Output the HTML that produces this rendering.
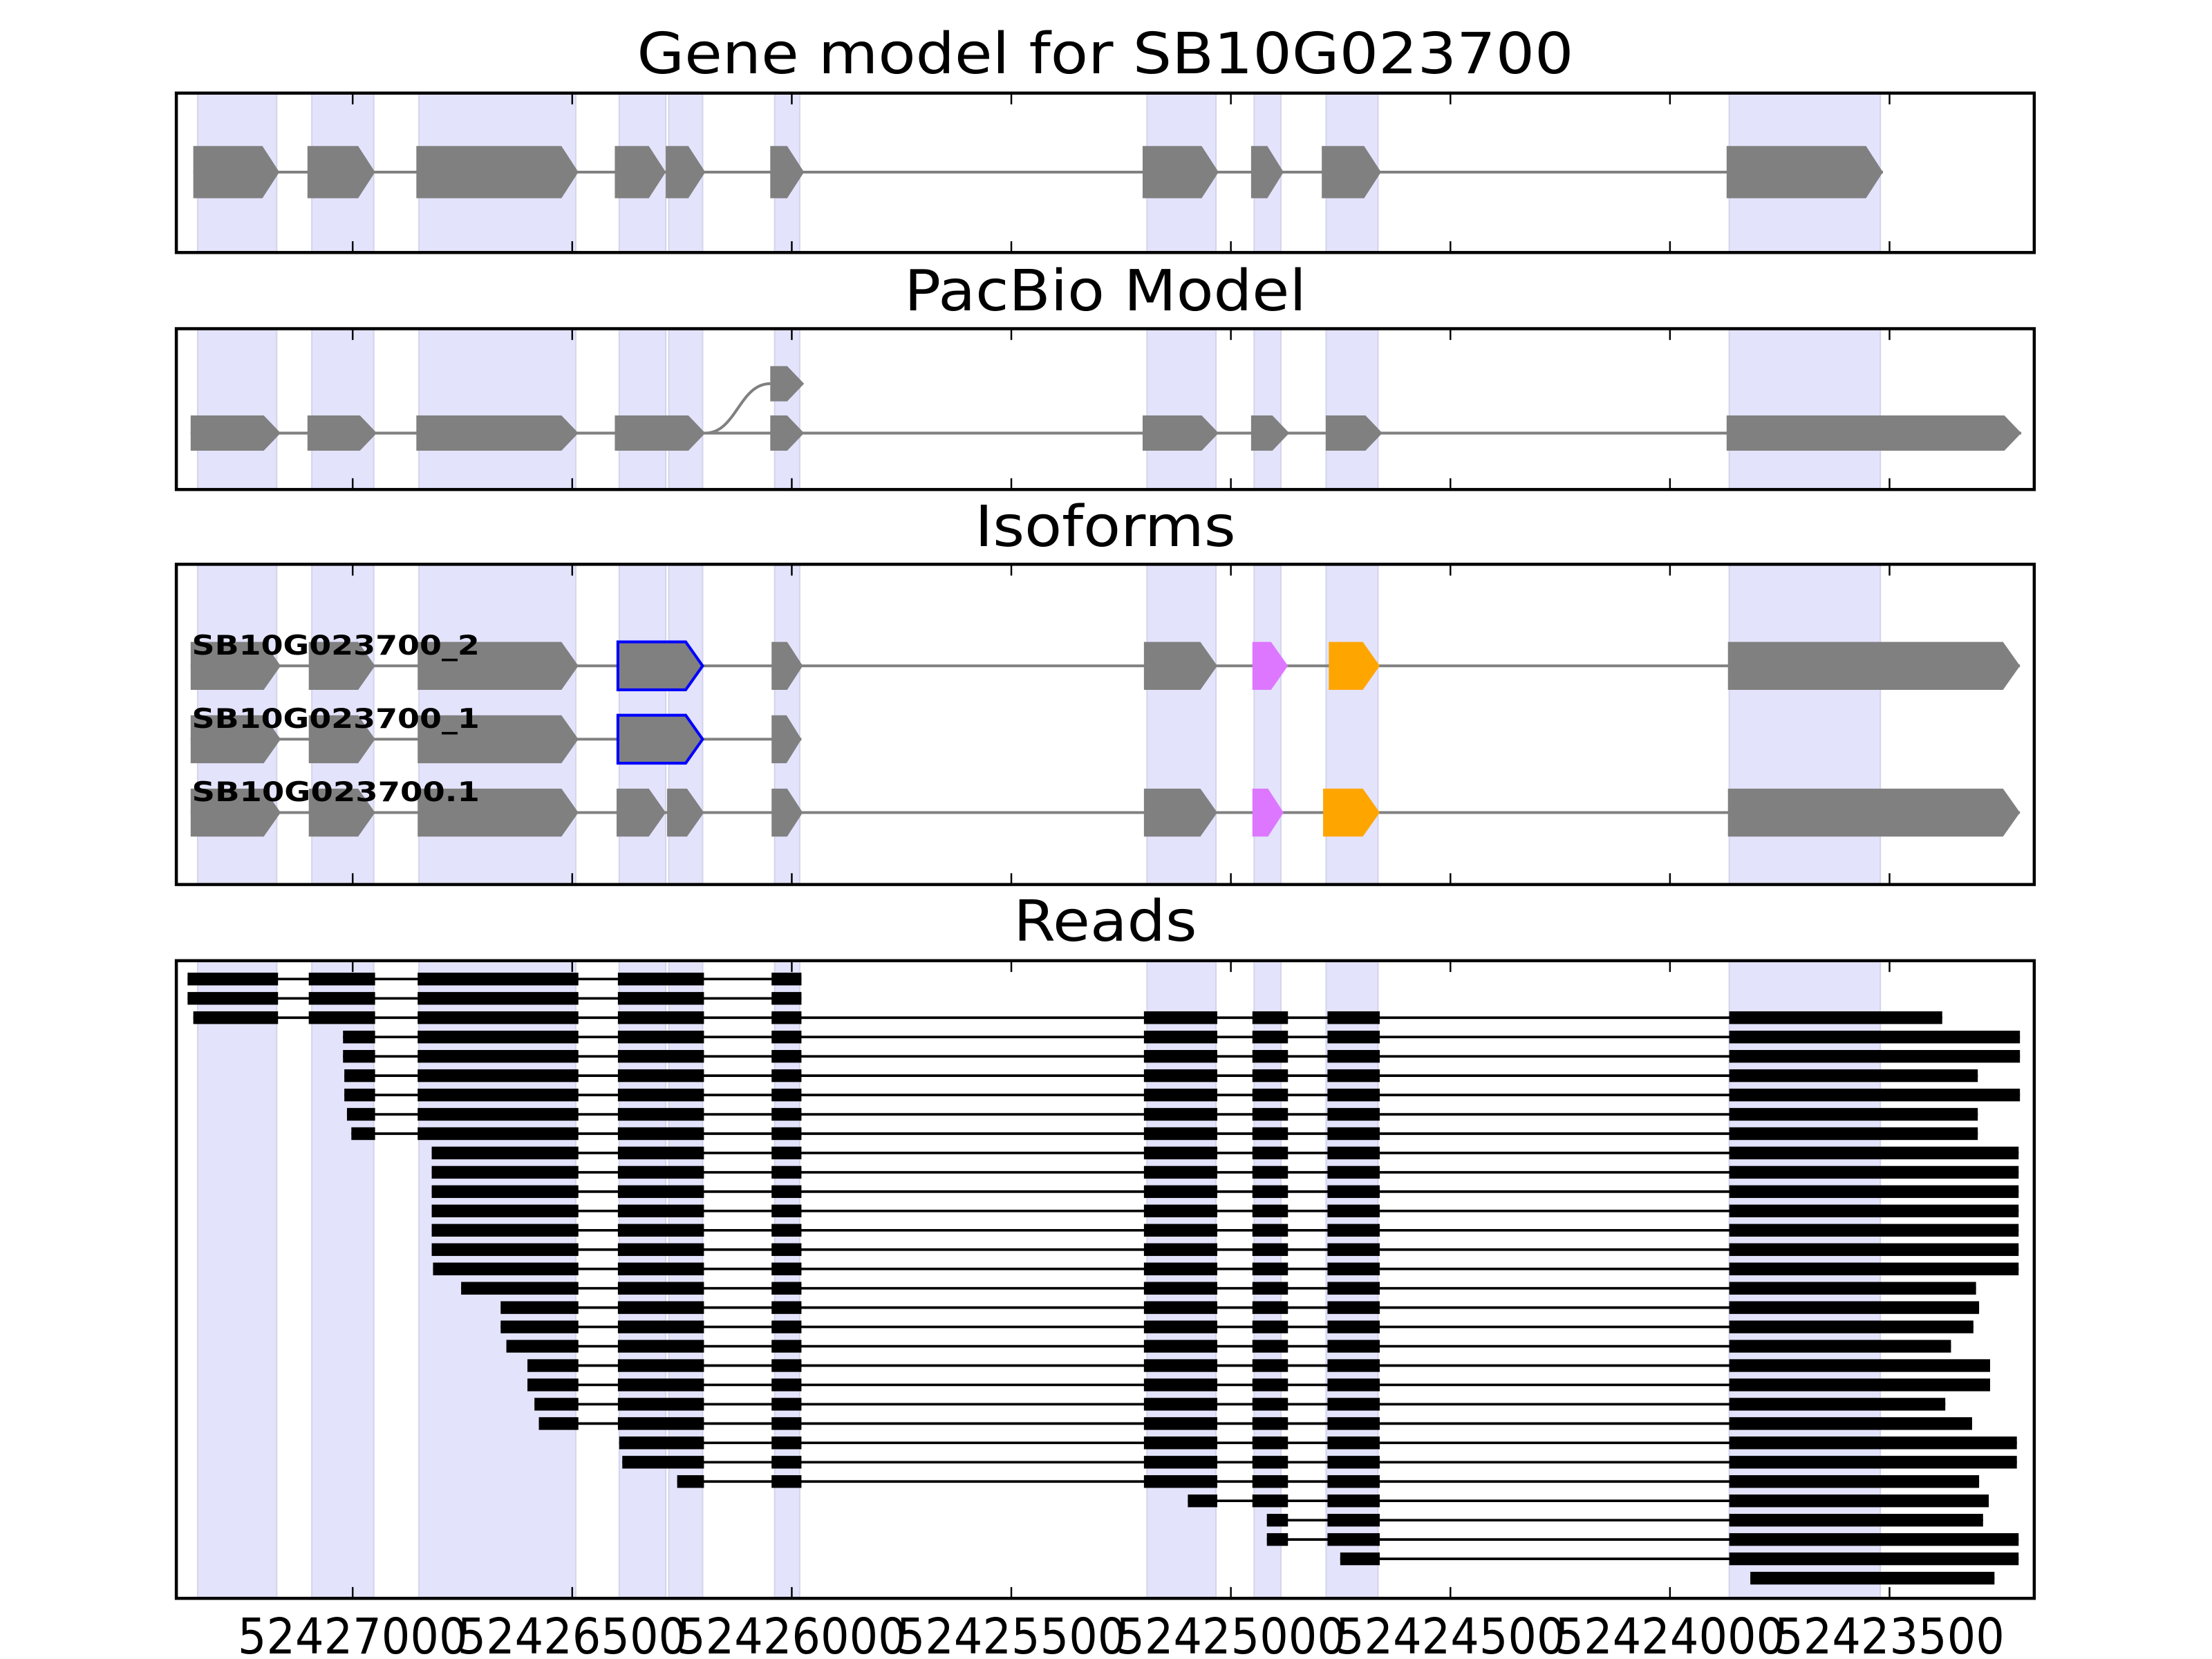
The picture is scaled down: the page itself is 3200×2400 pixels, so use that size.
<!DOCTYPE html>
<html><head><meta charset="utf-8"><style>
html,body{margin:0;padding:0;background:#fff;}
svg{display:block;}
text{font-family:"DejaVu Sans","Liberation Sans",sans-serif;}
</style></head>
<body>
<svg id="chart" width="3200" height="2400" viewBox="0 0 1568 1176" preserveAspectRatio="none" xmlns="http://www.w3.org/2000/svg"></svg>
<script>
// ---- data (genomic coordinates) ----
const tickValues = [52427000,52426500,52426000,52425500,52425000,52424500,52424000,52423500];
const tickLabels = ["52427000","52426500","52426000","52425500","52425000","52424500","52424000","52423500"];
const shadeStarts = [52427353,52427093,52426849,52426393,52426280,52426039,52425191,52424947,52424783,52423865];
const shadeEnds   = [52427173,52426952,52426492,52426287,52426203,52425982,52425034,52424886,52424665,52423521];
const geneStarts = [52427363,52427103,52426855,52426403,52426287,52426049,52425201,52424954,52424793,52423871];
const geneEnds   = [52427167,52426949,52426486,52426287,52426197,52425972,52425028,52424880,52424658,52423515];
const pacStarts = [52427369,52427103,52426855,52426403,52426049,52425201,52424954,52424784,52423871];
const pacEnds   = [52427164,52426945,52426486,52426197,52425972,52425028,52424867,52424655,52423200];
const pacBranchStart = 52426049, pacBranchEnd = 52425972;
const isoNames = ["SB10G023700_2","SB10G023700_1","SB10G023700.1"];
const iso2Starts = [52427369,52427100,52426852,52426396,52426046,52425198,52424951,52424777,52423868];
const iso2Ends   = [52427164,52426949,52426486,52426203,52425975,52425031,52424870,52424661,52423203];
const iso2Colors = ["g","g","g","b","g","g","p","o","g"];
const iso1Starts = [52427369,52427100,52426852,52426396,52426046];
const iso1Ends   = [52427164,52426949,52426486,52426203,52425978];
const iso1Colors = ["g","g","g","b","g"];
const iso3Starts = [52427369,52427100,52426852,52426399,52426284,52426046,52425198,52424951,52424790,52423868];
const iso3Ends   = [52427164,52426949,52426486,52426287,52426200,52425975,52425031,52424880,52424661,52423203];
const iso3Colors = ["g","g","g","g","g","g","g","p","o","g"];
const readExonStarts = [52427376,52427100,52426852,52426396,52426046,52425198,52424951,52424780,52423865];
const readExonEnds   = [52427170,52426949,52426486,52426200,52425978,52425031,52424870,52424661,52420000];
const readStarts = [52427376,52427376,52427363,52427022,52427022,52427019,52427019,52427013,52427003,
  52426820,52426820,52426820,52426820,52426820,52426820,52426817,52426753,52426663,52426663,52426650,
  52426602,52426602,52426586,52426576,52426393,52426386,52426261,52425098,52424918,52424918,52424751,52423817];
const readEnds = [52425978,52425978,52423380,52423203,52423203,52423299,52423203,52423299,52423299,
  52423206,52423206,52423206,52423206,52423206,52423206,52423206,52423303,52423296,52423309,52423360,
  52423271,52423271,52423373,52423312,52423210,52423210,52423296,52423274,52423287,52423206,52423206,52423261];

// ---- layout ----
const NS = "http://www.w3.org/2000/svg";
const svg = document.getElementById('chart');
const X0 = 125, X1 = 1442;
const panels = [
  {name:'gene-model-panel', title:'Gene model for SB10G023700', top:66, bot:179, ty:52, tl:664},
  {name:'pacbio-model-panel', title:'PacBio Model', top:233, bot:347, ty:220, tl:285},
  {name:'isoforms-panel', title:'Isoforms', top:400, bot:627, ty:387, tl:185},
  {name:'reads-panel', title:'Reads', top:681, bot:1133, ty:667, tl:130}
];
function xs(g){ return 250 + (52427000 - g) * 0.31126; }
function mk(tag, attrs, parent){
  const e = document.createElementNS(NS, tag);
  for (const k in attrs) e.setAttribute(k, attrs[k]);
  (parent || svg).appendChild(e);
  return e;
}
const colorMap = {g:'#808080', b:'#808080', p:'#dd77ff', o:'#ffa500'};

function arrow(parent, s, e, cy, h, color, name, outline){
  const x1 = xs(s), x2 = xs(e);
  const tip = Math.min(12, (x2 - x1) * 0.5);
  const pts = [[x1,cy-h/2],[x2-tip,cy-h/2],[x2,cy],[x2-tip,cy+h/2],[x1,cy+h/2]].map(p=>p.join(',')).join(' ');
  const el = mk('polygon', {points: pts, fill: color}, parent);
  if (outline) { el.setAttribute('stroke', outline); el.setAttribute('stroke-width', '2'); }
  
  
  return el;
}

panels.forEach((p, pi) => {
  const g = mk('g', {});
  
  
  const t = mk('text', {x:(X0+X1)/2, y:p.ty, 'text-anchor':'middle', 'font-size':40, textLength:p.tl, lengthAdjust:'spacingAndGlyphs'}, g);
  t.textContent = p.title;
  
  
  for (let i = 0; i < shadeStarts.length; i++){
    const a = xs(shadeStarts[i]), b = xs(shadeEnds[i]);
    const r = mk('rect', {x:a, y:p.top, width:b-a, height:p.bot-p.top, fill:'#e3e3fc', stroke:'#d4d4ec', 'stroke-width':1}, g);
    
    
  }
  p.g = g;
});

// Gene model
{
  const g = panels[0].g, cy = 122;
  mk('line', {x1:xs(geneStarts[0]), x2:xs(geneEnds[geneEnds.length-1]), y1:cy, y2:cy, stroke:'#808080', 'stroke-width':2}, g);
  for (let i = 0; i < geneStarts.length; i++) arrow(g, geneStarts[i], geneEnds[i], cy, 37, '#808080', 'gene-exon');
}
// PacBio
{
  const g = panels[1].g, cy = 307, cyb = 272;
  mk('line', {x1:xs(pacStarts[0]), x2:xs(pacEnds[pacEnds.length-1]), y1:cy, y2:cy, stroke:'#808080', 'stroke-width':2}, g);
  for (let i = 0; i < pacStarts.length; i++) arrow(g, pacStarts[i], pacEnds[i], cy, 25, '#808080', 'pacbio-exon');
  const xa = xs(pacEnds[3]), xb = xs(pacBranchStart);
  const c = mk('path', {d:`M${xa},${cy} C${xa+22},${cy} ${xb-22},${cyb} ${xb},${cyb}`, fill:'none', stroke:'#808080', 'stroke-width':2}, g);
  
  
  arrow(g, pacBranchStart, pacBranchEnd, cyb, 25, '#808080', 'pacbio-branch-exon');
}
// Isoforms
{
  const g = panels[2].g;
  const rows = [[iso2Starts, iso2Ends, iso2Colors, 472, 464],[iso1Starts, iso1Ends, iso1Colors, 524, 516],[iso3Starts, iso3Ends, iso3Colors, 576, 568]];
  rows.forEach((r, ri) => {
    const [S, E, C, cy, ly] = r;
    mk('line', {x1:xs(S[0]), x2:xs(E[E.length-1]), y1:cy, y2:cy, stroke:'#808080', 'stroke-width':2}, g);
    for (let i = 0; i < S.length; i++) arrow(g, S[i], E[i], cy, 34, colorMap[C[i]], 'isoform-exon', C[i]==='b' ? '#0000ff' : null);
    const t = mk('text', {x:136, y:ly, 'font-size':19, 'font-weight':'bold', textLength:204, lengthAdjust:'spacingAndGlyphs'}, g);
    t.textContent = isoNames[ri];
    
    
  });
}
// Reads
{
  const g = panels[3].g;
  for (let r = 0; r < readStarts.length; r++){
    const cy = 694 + r * 13.7;
    const s = readStarts[r], e = readEnds[r];
    const ln = mk('line', {x1:xs(s), x2:xs(e), y1:cy, y2:cy, stroke:'#000', 'stroke-width':1.8}, g);
    
    
    for (let i = 0; i < readExonStarts.length; i++){
      const a = Math.min(s, readExonStarts[i]), b = Math.max(e, readExonEnds[i]);
      if (a <= b) continue;
      const x1 = xs(a), x2 = xs(b);
      const rc = mk('rect', {x:x1, y:cy-4.5, width:x2-x1, height:9, fill:'#000'}, g);
      
      
    }
  }
}
// Frames and ticks
panels.forEach((p, pi) => {
  const g = p.g;
  tickValues.forEach(v => {
    const x = xs(v);
    mk('line', {x1:x, x2:x, y1:p.top, y2:p.top+8, stroke:'#000', 'stroke-width':1.2}, g);
    mk('line', {x1:x, x2:x, y1:p.bot, y2:p.bot-8, stroke:'#000', 'stroke-width':1.2}, g);
  });
  const fr = mk('rect', {x:X0, y:p.top, width:X1-X0, height:p.bot-p.top, fill:'none', stroke:'#000', 'stroke-width':2.2}, g);
  
  
});
const xa = mk('g', {});


tickValues.forEach((v, i) => {
  const t = mk('text', {x:xs(v), y:1172, 'text-anchor':'middle', 'font-size':35, textLength:163, lengthAdjust:'spacingAndGlyphs'}, xa);
  t.textContent = tickLabels[i];
  
  
});
</script>
</body></html>
